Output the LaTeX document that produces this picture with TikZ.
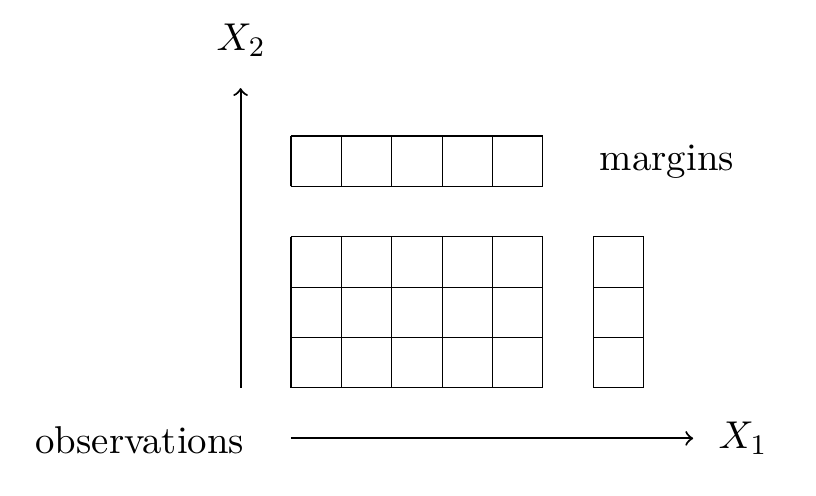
\documentclass[tikz,border=0pt,11pt]{standalone}
\usepackage{amsmath}
\usepackage{amssymb}
\usepackage{tikz}
\usetikzlibrary{arrows,positioning}
\newcommand{\cellsz}{0.5cm}

\begin{document}
\begin{tikzpicture}[x=\cellsz,y=\cellsz]
        \useasboundingbox (-5.774,-2.143) rectangle (10.417,7.698);
        \begin{scope}
        %\draw[help lines] (-5,-2) grid (10,7);
            \tikzset{cellgrid/.style = {step=\cellsz, line width=0.3pt}}
            % table of observations
            \draw[cellgrid] (0,0) grid (5,3);
            % margins
            \draw[cellgrid] (0,4) grid (5,5);
            \draw[cellgrid] (6,0) grid (7,3);

            \coordinate (y0) at (-1,0);
            \coordinate (y1) at (-1,5.95);
            \coordinate (x0) at (0,-1);
            \coordinate (x1) at (7.98,-1);

            \draw[->, semithick] (y0) -- (y1);
            \draw[->, semithick] (x0) -- (x1);

            \node (xtwo) at (-0.99,6.9) {$X_2$};
            \node (xone) at (8.97,-0.99) {$X_1$};
            \node (obs) at (-3,-1.03) {observations};
            \node (marg) at (7.46,4.48) {margins};
        \end{scope}
    \end{tikzpicture}
\end{document}
